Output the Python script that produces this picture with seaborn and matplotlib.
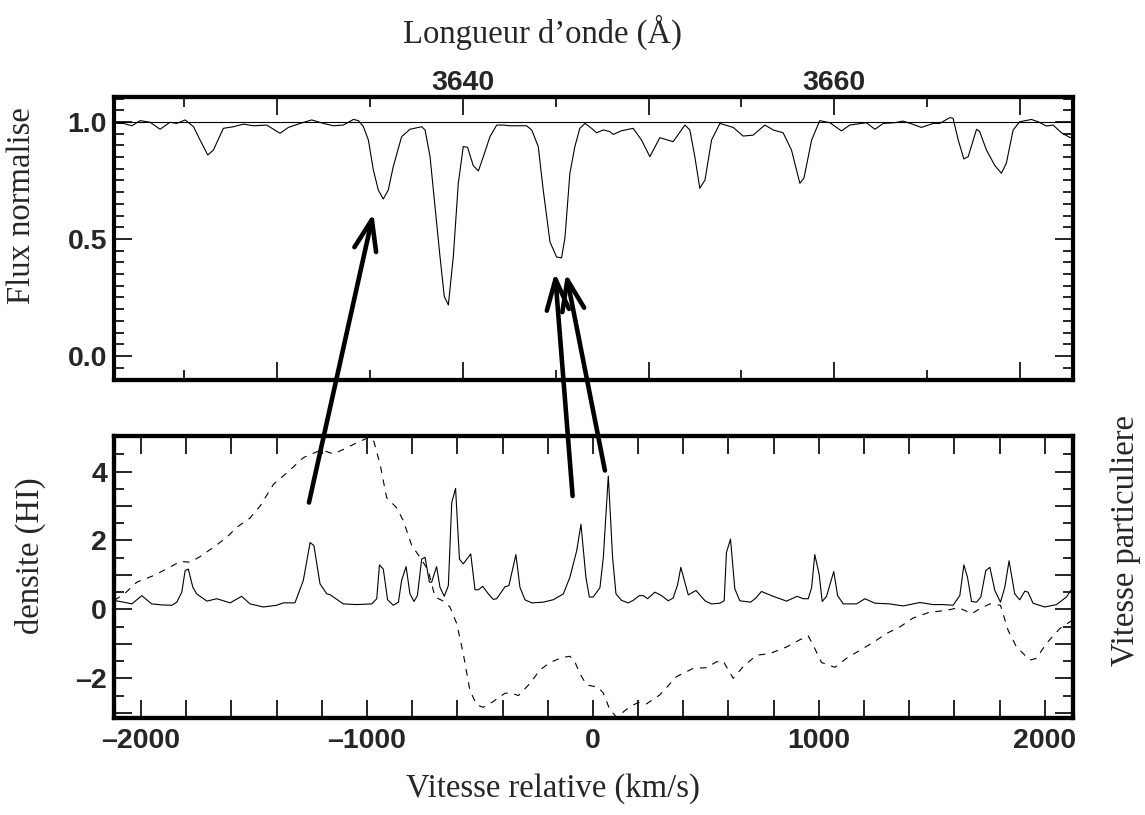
import numpy as np
import pandas as pd
import matplotlib
matplotlib.use("Agg")
import matplotlib.pyplot as plt
import seaborn as sns
from matplotlib.patches import ConnectionPatch
from matplotlib.ticker import MultipleLocator, FuncFormatter, FixedLocator
from matplotlib.font_manager import FontProperties

# ---------------- data ----------------
LAMBDA0 = 3647.0          # wavelength at v = 0 (Angstrom)
C_KMS = 299792.458

flux_velocity = [
    -2108, -2078, -2041, -2004, -1960, -1916, -1872, -1842, -1805, -1768, -1739, -1705,
    -1680, -1636, -1591, -1547, -1503, -1444, -1385, -1348, -1296, -1245, -1193, -1149,
    -1105, -1060, -1038, -1016, -994, -972, -950, -928, -906, -884, -847, -810, -758,
    -743, -721, -699, -677, -658, -640, -618, -596, -574, -555, -530, -507, -485, -456,
    -426, -397, -367, -294, -271, -242, -220, -190, -161, -139, -124, -102, -80, -58,
    -35, -6, 16, 46, 75, 90, 127, 178, 215, 252, 296, 355, 407, 429, 451, 473, 496, 525,
    562, 621, 665, 709, 761, 798, 842, 879, 916, 934, 968, 1004, 1049, 1100, 1137, 1211,
    1248, 1285, 1336, 1373, 1417, 1454, 1506, 1535, 1580, 1594, 1617, 1642, 1661, 1698,
    1712, 1742, 1779, 1808, 1830, 1860, 1889, 1941, 1971, 2007, 2037, 2074, 2111, 2125]
flux_values = [
    0.994, 0.994, 0.984, 1.006, 0.999, 0.969, 0.999, 0.994, 1.009, 0.980, 0.923, 0.859,
    0.880, 0.973, 0.980, 0.991, 0.984, 0.987, 0.952, 0.977, 0.994, 1.009, 0.994, 0.984,
    0.987, 1.011, 1.006, 0.980, 0.923, 0.795, 0.709, 0.671, 0.709, 0.809, 0.937, 0.969, 0.980,
    0.966, 0.852, 0.638, 0.425, 0.254, 0.218, 0.425, 0.738, 0.895, 0.892, 0.814, 0.791, 0.852, 0.937,
    0.987, 0.987, 0.984, 0.984, 0.966, 0.895, 0.709, 0.487, 0.423, 0.419, 0.504, 0.781, 0.895, 0.973,
    0.994, 0.973, 0.954, 0.966, 0.959, 0.947, 0.963, 0.973, 0.923, 0.852, 0.933, 0.916, 0.987, 0.966,
    0.852, 0.717, 0.752, 0.923, 0.994, 0.977, 0.940, 0.944, 0.987, 0.966, 0.954, 0.880, 0.738, 0.760,
    0.923, 1.006, 0.997, 0.962, 0.987, 0.997, 0.969, 0.994, 0.997, 1.004, 0.990, 0.977, 0.994, 0.994,
    1.019, 1.016, 0.923, 0.842, 0.852, 0.969, 0.959, 0.880, 0.814, 0.781, 0.824, 0.966, 1.001, 1.011,
    1.001, 0.983, 0.987, 0.954, 0.934, 0.933]

density_velocity = [
    -2119, -2078, -2041, -1997, -1953, -1909, -1864, -1842, -1820, -1805, -1791, -1771,
    -1754, -1709, -1665, -1606, -1555, -1518, -1459, -1400, -1370, -1319, -1282, -1252,
    -1235, -1208, -1178, -1164, -1105, -1046, -979, -957, -945, -928, -909, -884, -861,
    -847, -827, -810, -792, -777, -758, -743, -724, -714, -692, -677, -658, -640, -625,
    -608, -591, -574, -541, -522, -507, -488, -463, -441, -426, -389, -372, -341, -323,
    -301, -271, -220, -176, -131, -102, -72, -53, -31, -16, 1, 31, 46, 68, 87, 102, 127,
    156, 178, 205, 223, 242, 274, 304, 333, 355, 375, 389, 422, 456, 496, 525, 562, 581,
    591, 609, 628, 650, 698, 721, 746, 798, 857, 904, 931, 953, 968, 982, 1001, 1015,
    1034, 1066, 1083, 1108, 1167, 1204, 1248, 1314, 1373, 1447, 1506, 1550, 1594, 1624,
    1642, 1658, 1676, 1698, 1717, 1739, 1757, 1779, 1804, 1823, 1842, 1867, 1889, 1912,
    1926, 1948, 2000, 2052, 2096, 2125]
density_values = [
    0.26, 0.21, 0.16, 0.40, 0.16, 0.13, 0.12, 0.21, 0.50, 1.13, 1.17, 0.64,
    0.45, 0.24, 0.31, 0.19, 0.38, 0.16, 0.07, 0.12, 0.19, 0.19, 0.84, 1.94,
    1.85, 0.74, 0.45, 0.43, 0.16, 0.14, 0.16, 0.31, 1.29, 1.17, 0.28, 0.12, 0.21,
    0.84, 1.24, 0.45, 0.23, 0.40, 1.46, 1.51, 0.79, 0.79, 1.24, 0.64, 0.38, 0.69, 3.10,
    3.51, 1.46, 1.32, 1.61, 0.57, 0.57, 0.67, 0.45, 0.29, 0.31, 0.66, 0.69, 1.59, 0.64,
    0.28, 0.19, 0.21, 0.28, 0.45, 0.93, 1.70, 2.47, 0.93, 0.36, 0.36, 0.63, 1.51, 3.87, 1.51, 0.45, 0.26,
    0.19, 0.26, 0.40, 0.40, 0.31, 0.50, 0.40, 0.25, 0.33, 0.72, 1.22, 0.42, 0.55, 0.25, 0.16, 0.18, 0.25,
    1.65, 2.04, 0.60, 0.25, 0.21, 0.33, 0.52, 0.38, 0.24, 0.38, 0.31, 0.31, 0.63, 1.59, 1.03, 0.23,
    0.38, 1.10, 0.40, 0.16, 0.16, 0.31, 0.18, 0.16, 0.10, 0.20, 0.14, 0.14, 0.12, 0.40,
    1.29, 0.93, 0.23, 0.21, 0.36, 1.13, 1.22, 0.55, 0.21, 0.64, 1.41, 0.45, 0.28, 0.53,
    0.50, 0.18, 0.07, 0.14, 0.36, 0.64]

peculiar_velocity = [
    -2119, -2071, -2019, -1945, -1888, -1827, -1783, -1739, -1680, -1621, -1577, -1518,
    -1473, -1414, -1355, -1282, -1223, -1193, -1149, -1105, -1046, -999, -972, -942,
    -913, -869, -839, -802, -765, -729, -699, -662, -633, -603, -574, -545, -515, -485,
    -441, -389, -360, -330, -279, -235, -190, -139, -102, -80, -58, -28, 24, 46, 75,
    105, 164, 201, 237, 296, 370, 444, 503, 547, 577, 599, 621, 665, 724, 783, 857,
    916, 953, 975, 1012, 1071, 1122, 1196, 1240, 1299, 1358, 1417, 1491, 1565, 1617,
    1646, 1676, 1712, 1757, 1804, 1838, 1875, 1934, 1963, 2007, 2066, 2125]
peculiar_values = [
    0.26, 0.47, 0.79, 0.98, 1.17, 1.39, 1.37, 1.53, 1.80, 2.09, 2.38, 2.65,
    3.00, 3.63, 3.96, 4.40, 4.57, 4.61, 4.51, 4.64, 4.83, 4.97, 4.93, 4.20,
    3.24, 2.95, 2.57, 1.85, 1.51, 1.13, 0.36, 0.24, 0.07, -0.41, -1.28, -2.34, -2.77, -2.84,
    -2.67, -2.43, -2.43, -2.50, -2.15, -1.76, -1.54, -1.40, -1.36, -1.52, -1.86, -2.19, -2.26, -2.43, -2.91,
    -3.13, -2.82, -2.70, -2.74, -2.48, -1.95, -1.71, -1.69, -1.52, -1.50, -1.76, -2.00, -1.66, -1.33, -1.28, -1.09,
    -0.88, -0.77, -1.04, -1.54, -1.68, -1.42, -1.13, -0.96, -0.70, -0.51, -0.25, -0.08, -0.03, 0.05,
    -0.03, -0.13, 0.02, 0.16, 0.12, -0.61, -1.09, -1.47, -1.42, -0.99, -0.56, -0.30]

# wavelength ticks of the top panel
wavelength_major = [3630, 3640, 3650, 3660, 3670]
wavelength_labels = ["", "3640", "", "3660", ""]

# arrows: from density peaks (bottom panel) to absorption lines (top panel)
arrow_tail_velocity = [-1257, -90, 53]
arrow_tail_density = [3.10, 3.29, 4.03]
arrow_tip_velocity = [-972, -168, -119]
arrow_tip_flux = [0.610, 0.356, 0.353]

# ---------------- style ----------------
sns.set_theme(style="ticks")
plt.rcParams["font.family"] = ["Liberation Sans", "DejaVu Sans"]
serif = ["Liberation Serif", "DejaVu Serif"]
TICK_FP = FontProperties(family=["Liberation Sans", "DejaVu Sans"], weight="bold", size=20.5)
LABEL_SIZE = 23.5
SPINE_LW = 3.0

W, H = 1145, 815
L_PX, R_PX = 114, 1073
fig = plt.figure(figsize=(W / 100, H / 100), dpi=100)
ax1 = fig.add_axes([L_PX / W, 1 - 380 / H, (R_PX - L_PX) / W, (380 - 97) / H])
ax2 = fig.add_axes([L_PX / W, 1 - 718 / H, (R_PX - L_PX) / W, (718 - 436) / H])

XLIM = (-2120, 2125)

def v2l(v):
    return LAMBDA0 * (1 + np.asarray(v) / C_KMS)

def l2v(l):
    return (np.asarray(l) / LAMBDA0 - 1) * C_KMS

def style_ticks(obj, **kw):
    obj.tick_params(which="major", direction="in", length=13, width=1.2, color="black", **kw)
    obj.tick_params(which="minor", direction="in", length=7, width=1.2, color="black", **kw)

# ---------------- top panel: normalised flux ----------------
spec = pd.DataFrame({"v": flux_velocity, "flux": flux_values})
sns.lineplot(data=spec, x="v", y="flux", ax=ax1, color="black", lw=0.8,
             estimator=None, sort=False)
ax1.axhline(1.0, color="black", lw=0.8)
ax1.set_xlim(*XLIM)
ax1.set_ylim(-0.103, 1.107)
ax1.tick_params(axis="x", which="both", bottom=False, top=False, labelbottom=False)
ax1.yaxis.set_major_locator(MultipleLocator(0.5))
ax1.yaxis.set_minor_locator(MultipleLocator(0.05))
ax1.yaxis.set_major_formatter(FuncFormatter(lambda y, p: f"{y:.1f}"))
style_ticks(ax1, axis="y", left=True, right=True, labelleft=True, labelright=False, pad=5)
for lab in ax1.get_yticklabels():
    lab.set_fontproperties(TICK_FP)
ax1.set_xlabel("")
ax1.set_ylabel("Flux normalise", family=serif, fontsize=LABEL_SIZE)
ax1.yaxis.label.set_va("center")

sec_top = ax1.secondary_xaxis("top", functions=(v2l, l2v))
sec_bot = ax1.secondary_xaxis("bottom", functions=(v2l, l2v))
for sec in (sec_top, sec_bot):
    sec.xaxis.set_major_locator(FixedLocator(wavelength_major))
    sec.xaxis.set_minor_locator(MultipleLocator(5))
    sec.spines[:].set_linewidth(SPINE_LW)
style_ticks(sec_top, pad=1)
style_ticks(sec_bot, labelbottom=False)
sec_top.set_xticks(wavelength_major, wavelength_labels)
sec_bot.set_xticks(wavelength_major, [""] * len(wavelength_major))
for lab in sec_top.get_xticklabels():
    lab.set_fontproperties(TICK_FP)

# ---------------- bottom panel: density and peculiar velocity ----------------
dens = pd.DataFrame({"v": density_velocity, "d": density_values})
pec = pd.DataFrame({"v": peculiar_velocity, "p": peculiar_values})
sns.lineplot(data=dens, x="v", y="d", ax=ax2, color="black", lw=0.8,
             estimator=None, sort=False)
YLIM2 = (-3.15, 5.03)
ax2.set_xlim(*XLIM)
ax2.set_ylim(*YLIM2)
ax2.xaxis.set_major_locator(MultipleLocator(200))
ax2.xaxis.set_major_formatter(FuncFormatter(
    lambda v, p: (f"{v:.0f}".replace("-", "\u2013") if round(v) % 1000 == 0 else "")))
ax2.yaxis.set_major_locator(MultipleLocator(1))
ax2.yaxis.set_minor_locator(MultipleLocator(0.5))
ax2.yaxis.set_major_formatter(FuncFormatter(
    lambda y, p: (f"{y:.0f}".replace("-", "\u2013") if round(y) % 2 == 0 else "")))
style_ticks(ax2, axis="x", bottom=True, top=True, labelbottom=True, pad=7)
style_ticks(ax2, axis="y", left=True, right=False, labelleft=True, pad=5)
for lab in ax2.get_xticklabels() + ax2.get_yticklabels():
    lab.set_fontproperties(TICK_FP)
ax2.set_xlabel("Vitesse relative (km/s)", family=serif, fontsize=LABEL_SIZE)
ax2.xaxis.set_label_coords((553 - L_PX) / (R_PX - L_PX), -(789 - 718) / (718 - 436))
ax2.xaxis.label.set_va("center")
ax2.set_ylabel("densite (HI)", family=serif, fontsize=LABEL_SIZE)
ax2.yaxis.set_label_coords(-(L_PX - 30) / (R_PX - L_PX), 1 - (556 - 436) / (718 - 436))
ax2.yaxis.label.set_va("center")

ax2r = ax2.twinx()
sns.lineplot(data=pec, x="v", y="p", ax=ax2r, color="black", lw=0.8,
             linestyle=(0, (6, 6)), estimator=None, sort=False)
ax2r.set_ylim(*YLIM2)
ax2r.yaxis.set_major_locator(MultipleLocator(1))
ax2r.yaxis.set_minor_locator(MultipleLocator(0.5))
style_ticks(ax2r, axis="y", right=True, left=False, labelright=False)
ax2r.set_ylabel("Vitesse particuliere", family=serif, fontsize=LABEL_SIZE)
ax2r.yaxis.set_label_coords(1 + (1126 - R_PX) / (R_PX - L_PX), 1 - (541 - 436) / (718 - 436))
ax2r.yaxis.label.set_va("center")
ax2r.set_xlabel("")

for ax in (ax1, ax2, ax2r):
    for s in ax.spines.values():
        s.set_linewidth(SPINE_LW)
        s.set_color("black")
    ax.grid(False)
    if ax.get_legend():
        ax.get_legend().remove()
ax1.yaxis.set_label_coords(-(L_PX - 22) / (R_PX - L_PX), 1 - (206 - 97) / (380 - 97))

# title-like label of the wavelength axis, placed relative to the top panel
ax1.text((542 - L_PX) / (R_PX - L_PX), 1 + (97 - 32) / (380 - 97),
         "Longueur d\u2019onde (\u00c5)", transform=ax1.transAxes,
         ha="center", va="center", family=serif, fontsize=LABEL_SIZE, clip_on=False)

# ---------------- arrows linking the panels ----------------
for vt, dt, vh, fh in zip(arrow_tail_velocity, arrow_tail_density,
                          arrow_tip_velocity, arrow_tip_flux):
    con = ConnectionPatch(xyA=(vt, dt), coordsA=ax2.transData,
                          xyB=(vh, fh), coordsB=ax1.transData,
                          arrowstyle="->,head_length=1.1,head_width=0.4",
                          mutation_scale=20, lw=3.3, color="black",
                          shrinkA=0, shrinkB=0, zorder=10)
    fig.add_artist(con)

fig.savefig("out.png", dpi=100, facecolor="white")
